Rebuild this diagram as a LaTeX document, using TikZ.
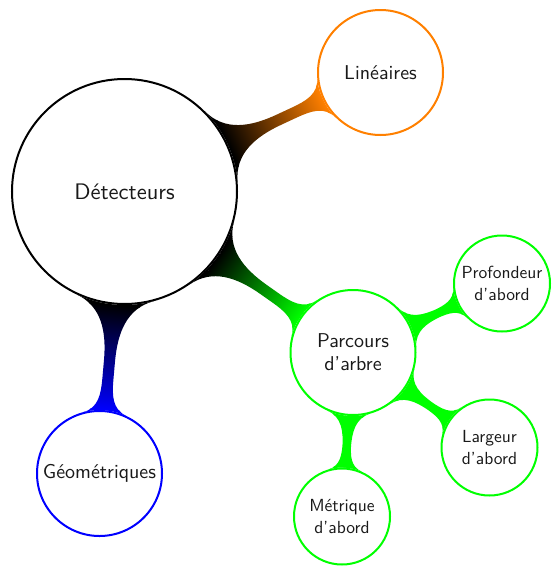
\documentclass[tikz,border=0pt]{standalone}
\usepackage{fontspec}
\setsansfont{lmsans10-regular.otf}
\usetikzlibrary{mindmap,backgrounds}
\begin{document}
\begin{tikzpicture}[x=1pt,y=-1pt,
  cpt/.style={circle, draw=#1, line width=2pt, fill=white, inner sep=0pt, align=center, font=\sffamily, text=black!90},
  rootsz/.style={minimum size=225pt, font=\sffamily\fontsize{22.5}{27}\selectfont},
  kidsz/.style={minimum size=125pt, font=\sffamily\fontsize{20}{23}\selectfont},
  subsz/.style={minimum size=96pt, font=\sffamily\fontsize{17.5}{21.5}\selectfont}]
\useasboundingbox (0,0) rectangle (552,568);
\node[cpt=black, rootsz] (root) at (124.5,191.5) {Détecteurs};
\node[cpt=orange, kidsz] (lin) at (380.5,72.5) {Linéaires};
\node[cpt=blue, kidsz] (geo) at (99.5,473.5) {Géométriques};
\node[cpt=green, kidsz] (par) at (353,352.5) {Parcours\\d’arbre};
\node[cpt=green, subsz] (pro) at (502,283.5) {Profondeur\\d’abord};
\node[cpt=green, subsz] (lar) at (489.5,447.5) {Largeur\\d’abord};
\node[cpt=green, subsz] (met) at (342,516.5) {Métrique\\d’abord};
\begin{pgfonlayer}{background}
\path (root) to[circle connection bar switch color=from (black) to (orange)] (lin);
\path (root) to[circle connection bar switch color=from (black) to (blue)] (geo);
\path (root) to[circle connection bar switch color=from (black) to (green)] (par);
\path (par) to[circle connection bar switch color=from (green) to (green)] (pro);
\path (par) to[circle connection bar switch color=from (green) to (green)] (lar);
\path (par) to[circle connection bar switch color=from (green) to (green)] (met);
\end{pgfonlayer}
\end{tikzpicture}
\end{document}
